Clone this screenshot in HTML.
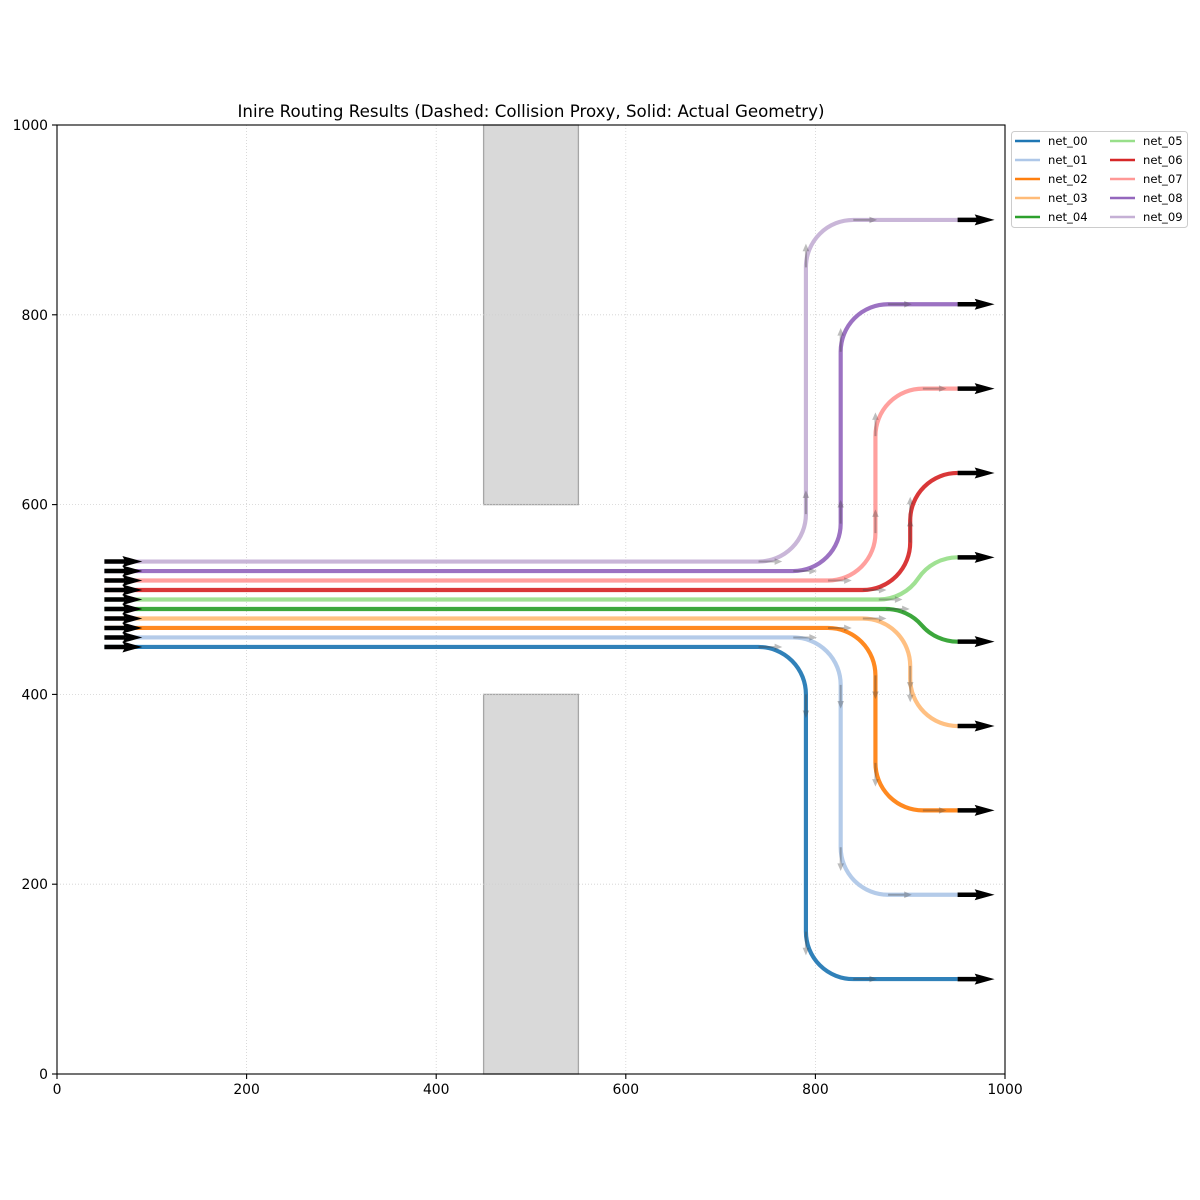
<!DOCTYPE html>
<html><head><meta charset="utf-8"><style>
html,body{margin:0;padding:0;background:#fff;}
svg{display:block;}
text{font-family:"DejaVu Sans","Liberation Sans",sans-serif;fill:#000;}
</style></head><body>
<svg width="1200" height="1200" viewBox="0 0 1200 1200" xmlns="http://www.w3.org/2000/svg">
<rect x="0" y="0" width="1200" height="1200" fill="#fff"/>
<!-- obstacles -->
<rect x="483.6" y="125" width="94.8" height="379.6" fill="#d9d9d9" stroke="#a6a6a6" stroke-width="1.3"/>
<rect x="483.6" y="694.4" width="94.8" height="379.6" fill="#d9d9d9" stroke="#a6a6a6" stroke-width="1.3"/>
<!-- grid -->
<g stroke="#d0d0d0" stroke-width="0.8" stroke-dasharray="1,2">
<line x1="246.6" y1="125" x2="246.6" y2="1074"/>
<line x1="436.2" y1="125" x2="436.2" y2="1074"/>
<line x1="625.8" y1="125" x2="625.8" y2="1074"/>
<line x1="815.4" y1="125" x2="815.4" y2="1074"/>
<line x1="57" y1="884.2" x2="1005" y2="884.2"/>
<line x1="57" y1="694.4" x2="1005" y2="694.4"/>
<line x1="57" y1="504.6" x2="1005" y2="504.6"/>
<line x1="57" y1="314.8" x2="1005" y2="314.8"/>
</g>
<g transform="translate(57,1074) scale(0.948,-0.949)">
<g fill="none" stroke-width="4.17" vector-effect="non-scaling-stroke" opacity="0.92">
<path vector-effect="non-scaling-stroke" stroke="#1f77b4" d="M50 450H740A50 50 0 0 0 790 400V150A50 50 0 0 1 840 100H950"/>
<path vector-effect="non-scaling-stroke" stroke="#aec7e8" d="M50 460H776.67A50 50 0 0 0 826.67 410V238.89A50 50 0 0 1 876.67 188.89H950"/>
<path vector-effect="non-scaling-stroke" stroke="#ff7f0e" d="M50 470H813.33A50 50 0 0 0 863.33 420V327.78A50 50 0 0 1 913.33 277.78H950"/>
<path vector-effect="non-scaling-stroke" stroke="#ffbb78" d="M50 480H850A50 50 0 0 0 900 430V416.67A50 50 0 0 1 950 366.67"/>
<path vector-effect="non-scaling-stroke" stroke="#2ca02c" d="M50 490H874.49A50 50 0 0 0 912.24 472.78A50 50 0 0 1 950 455.56"/>
<path vector-effect="non-scaling-stroke" stroke="#98df8a" d="M50 500H866.85A50 50 0 0 1 908.43 522.22A50 50 0 0 0 950 544.44"/>
<path vector-effect="non-scaling-stroke" stroke="#d62728" d="M50 510H850A50 50 0 0 1 900 560V583.33A50 50 0 0 0 950 633.33"/>
<path vector-effect="non-scaling-stroke" stroke="#ff9896" d="M50 520H813.33A50 50 0 0 1 863.33 570V672.22A50 50 0 0 0 913.33 722.22H950"/>
<path vector-effect="non-scaling-stroke" stroke="#9467bd" d="M50 530H776.67A50 50 0 0 1 826.67 580V761.11A50 50 0 0 0 876.67 811.11H950"/>
<path vector-effect="non-scaling-stroke" stroke="#c5b0d5" d="M50 540H740A50 50 0 0 1 790 590V850A50 50 0 0 0 840 900H950"/>
</g>
<!-- gray direction arrows -->
<g opacity="0.35">
<path vector-effect="non-scaling-stroke" fill="none" stroke="#444" stroke-width="2" d="M740 450h18M840 100h18M776.67 460h18M876.67 188.89h18M813.33 470h18M913.33 277.78h18M850 480h18M874.49 490h18M866.85 500h18M850 510h18M813.33 520h18M913.33 722.22h18M776.67 530h18M876.67 811.11h18M740 540h18M840 900h18
M790 400v-18M790 150v-18M826.67 410v-18M826.67 238.89v-18M863.33 420v-18M863.33 327.78v-18M900 430v-18M900 416.67v-18
M900 560v18M900 583.33v18M863.33 570v18M863.33 672.22v18M826.67 580v18M826.67 761.11v18M790 590v18M790 850v18"/>
<path fill="#444" d="M757 453.5L765 450L757 446.5ZM857 103.5L865 100L857 96.5ZM793.67 463.5L801.67 460L793.67 456.5ZM893.67 192.39L901.67 188.89L893.67 185.39ZM830.33 473.5L838.33 470L830.33 466.5ZM930.33 281.28L938.33 277.78L930.33 274.28ZM867 483.5L875 480L867 476.5ZM891.49 493.5L899.49 490L891.49 486.5ZM883.85 503.5L891.85 500L883.85 496.5ZM867 513.5L875 510L867 506.5ZM830.33 523.5L838.33 520L830.33 516.5ZM930.33 725.72L938.33 722.22L930.33 718.72ZM793.67 533.5L801.67 530L793.67 526.5ZM893.67 814.61L901.67 811.11L893.67 807.61ZM757 543.5L765 540L757 536.5ZM857 903.5L865 900L857 896.5Z
M793.5 383L790 375L786.5 383ZM793.5 133L790 125L786.5 133ZM830.17 393L826.67 385L823.17 393ZM830.17 221.89L826.67 213.89L823.17 221.89ZM866.83 403L863.33 395L859.83 403ZM866.83 310.78L863.33 302.78L859.83 310.78ZM903.5 413L900 405L896.5 413ZM903.5 399.67L900 391.67L896.5 399.67Z
M903.5 577L900 585L896.5 577ZM903.5 600.33L900 608.33L896.5 600.33ZM866.83 587L863.33 595L859.83 587ZM866.83 689.22L863.33 697.22L859.83 689.22ZM830.17 597L826.67 605L823.17 597ZM830.17 778.11L826.67 786.11L823.17 778.11ZM793.5 607L790 615L786.5 607ZM793.5 867L790 875L786.5 867Z"/>
</g>
<!-- black start/end arrows -->
<path vector-effect="non-scaling-stroke" fill="none" stroke="#000" stroke-width="4.5" d="M50 450H72M50 460H72M50 470H72M50 480H72M50 490H72M50 500H72M50 510H72M50 520H72M50 530H72M50 540H72
M950 100H971M950 188.89H971M950 277.78H971M950 366.67H971M950 455.56H971M950 544.44H971M950 633.33H971M950 722.22H971M950 811.11H971M950 900H971"/>
<path fill="#000" d="M69 455.8L90 450L69 444.2L72 450ZM69 465.8L90 460L69 454.2L72 460ZM69 475.8L90 470L69 464.2L72 470ZM69 485.8L90 480L69 474.2L72 480ZM69 495.8L90 490L69 484.2L72 490ZM69 505.8L90 500L69 494.2L72 500ZM69 515.8L90 510L69 504.2L72 510ZM69 525.8L90 520L69 514.2L72 520ZM69 535.8L90 530L69 524.2L72 530ZM69 545.8L90 540L69 534.2L72 540Z
M968 105.8L989 100L968 94.2L971 100ZM968 194.69L989 188.89L968 183.09L971 188.89ZM968 283.58L989 277.78L968 271.98L971 277.78ZM968 372.47L989 366.67L968 360.87L971 366.67ZM968 461.36L989 455.56L968 449.76L971 455.56ZM968 550.24L989 544.44L968 538.64L971 544.44ZM968 639.13L989 633.33L968 627.53L971 633.33ZM968 728.02L989 722.22L968 716.42L971 722.22ZM968 816.91L989 811.11L968 805.31L971 811.11ZM968 905.8L989 900L968 894.2L971 900Z"/>
</g>
<!-- spines -->
<rect x="57" y="125" width="948" height="949" fill="none" stroke="#000" stroke-width="1.1"/>
<!-- ticks -->
<g stroke="#000" stroke-width="1.1">
<line x1="57" y1="1074" x2="57" y2="1079"/>
<line x1="246.6" y1="1074" x2="246.6" y2="1079"/>
<line x1="436.2" y1="1074" x2="436.2" y2="1079"/>
<line x1="625.8" y1="1074" x2="625.8" y2="1079"/>
<line x1="815.4" y1="1074" x2="815.4" y2="1079"/>
<line x1="1005" y1="1074" x2="1005" y2="1079"/>
<line x1="52" y1="1074" x2="57" y2="1074"/>
<line x1="52" y1="884.2" x2="57" y2="884.2"/>
<line x1="52" y1="694.4" x2="57" y2="694.4"/>
<line x1="52" y1="504.6" x2="57" y2="504.6"/>
<line x1="52" y1="314.8" x2="57" y2="314.8"/>
<line x1="52" y1="125" x2="57" y2="125"/>
</g>
<g font-size="13.9" text-anchor="middle">
<text x="57" y="1094">0</text>
<text x="246.6" y="1094">200</text>
<text x="436.2" y="1094">400</text>
<text x="625.8" y="1094">600</text>
<text x="815.4" y="1094">800</text>
<text x="1005" y="1094">1000</text>
</g>
<g font-size="13.9" text-anchor="end">
<text x="48" y="1079">0</text>
<text x="48" y="889.2">200</text>
<text x="48" y="699.4">400</text>
<text x="48" y="509.6">600</text>
<text x="48" y="319.8">800</text>
<text x="48" y="130">1000</text>
</g>
<text x="531" y="117" font-size="16.67" text-anchor="middle">Inire Routing Results (Dashed: Collision Proxy, Solid: Actual Geometry)</text>
<!-- legend -->
<rect x="1011.5" y="131.5" width="176" height="96" rx="3" fill="#fff" fill-opacity="0.8" stroke="#cccccc" stroke-width="1"/>
<g stroke-width="2.5">
<line x1="1015" y1="141" x2="1040" y2="141" stroke="#1f77b4"/>
<line x1="1015" y1="160" x2="1040" y2="160" stroke="#aec7e8"/>
<line x1="1015" y1="179" x2="1040" y2="179" stroke="#ff7f0e"/>
<line x1="1015" y1="198" x2="1040" y2="198" stroke="#ffbb78"/>
<line x1="1015" y1="217" x2="1040" y2="217" stroke="#2ca02c"/>
<line x1="1110" y1="141" x2="1135" y2="141" stroke="#98df8a"/>
<line x1="1110" y1="160" x2="1135" y2="160" stroke="#d62728"/>
<line x1="1110" y1="179" x2="1135" y2="179" stroke="#ff9896"/>
<line x1="1110" y1="198" x2="1135" y2="198" stroke="#9467bd"/>
<line x1="1110" y1="217" x2="1135" y2="217" stroke="#c5b0d5"/>
</g>
<g font-size="11.6">
<text x="1048" y="145.2">net_00</text>
<text x="1048" y="164.2">net_01</text>
<text x="1048" y="183.2">net_02</text>
<text x="1048" y="202.2">net_03</text>
<text x="1048" y="221.2">net_04</text>
<text x="1143" y="145.2">net_05</text>
<text x="1143" y="164.2">net_06</text>
<text x="1143" y="183.2">net_07</text>
<text x="1143" y="202.2">net_08</text>
<text x="1143" y="221.2">net_09</text>
</g>
</svg>
</body></html>
